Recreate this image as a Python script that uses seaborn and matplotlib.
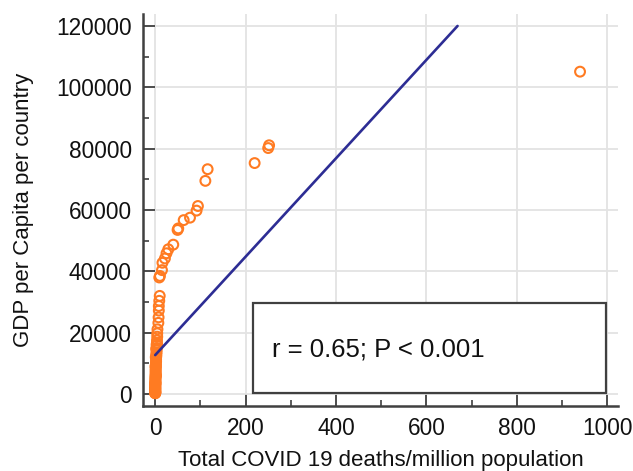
import matplotlib
matplotlib.use("Agg")
import matplotlib.pyplot as plt
import seaborn as sns
import pandas as pd
from matplotlib.patches import Rectangle
from matplotlib.ticker import MultipleLocator

# ---- data ----
deaths = [940, 252, 250, 220, 116, 111, 94.5, 91.5, 77, 63, 51, 49.5,
          40, 29, 25, 21.5, 16, 15, 10.5, 9,
          10, 9, 8, 8, 7.5, 7, 5, 4.5, 4.5, 4, 4, 3.5, 3.5, 3,
          3, 2.5, 2.5, 2, 2, 2, 1.5, 1.5, 1.5, 1, 1, 1, 1, 0.8, 0.8, 0.6,
          0.6, 0.5, 0.5, 0.4, 0.4, 0.3, 0.3, 0.3, 0.2, 0.2, 0.2, 0.1, 0.1,
          0.1, 0.1, 0.05, 0.05, 0.05, 0.02, 0.02, 0.02, 0.01, 0.01, 0.01,
          0.5, 1.2, 2.2, 3.2, 0.7, 1.8]
gdp = [105100, 81100, 80200, 75300, 73300, 69500, 61300, 59800, 57500, 56700, 54000, 53500,
       48700, 47200, 45900, 44200, 42800, 40400, 38500, 38000,
       32000, 30400, 28700, 27200, 25000, 23200, 21100, 19800, 18700, 17500, 16600, 15800, 15000, 14300,
       13600, 13000, 12400, 11800, 11200, 10600, 10000, 9400, 8800, 8200, 7700, 7200, 6700, 6200, 5800, 5400,
       5000, 4600, 4200, 3900, 3600, 3300, 3000, 2700, 2400, 2100, 1900, 1700, 1500,
       1300, 1100, 950, 800, 700, 600, 500, 420, 350, 300, 250,
       9000, 12000, 14800, 16200, 3500, 6000]

fit_x = [0, 669]
fit_y = [12700, 120000]

stat_text = "r = 0.65; P < 0.001"
x_label = "Total COVID 19 deaths/million population"
y_label = "GDP per Capita per country"
x_ticks = [0, 200, 400, 600, 800, 1000]
y_ticks = [0, 20000, 40000, 60000, 80000, 100000, 120000]

df = pd.DataFrame({"deaths": deaths, "gdp": gdp})
fit = pd.DataFrame({"x": fit_x, "y": fit_y})

sns.set_theme(style="white")
plt.rcParams["font.family"] = ["Liberation Sans", "DejaVu Sans"]

fig = plt.figure(figsize=(6.33, 4.71), dpi=100)
ax = fig.add_axes([143 / 633, 65 / 471, 475 / 633, 392 / 471])

ax.grid(True, color="#e3e3e3", linewidth=1.3, zorder=0)
ax.set_axisbelow(True)

sns.scatterplot(data=df, x="deaths", y="gdp", ax=ax, marker="o", s=50,
                facecolors="none", edgecolor="#ff7b22", linewidth=1.5, zorder=3)
sns.lineplot(data=fit, x="x", y="y", ax=ax, color="#2d2d94", linewidth=1.9, zorder=4)

ax.set_xlim(-27, 1024)
ax.set_ylim(-3900, 123900)
ax.set_xticks(x_ticks)
ax.set_yticks(y_ticks)
ax.xaxis.set_minor_locator(MultipleLocator(100))
ax.yaxis.set_minor_locator(MultipleLocator(10000))
ax.tick_params(which="major", direction="in", length=8.5, width=1.3, color="#404040",
               labelsize=16.3, labelcolor="#111111", pad=8)
ax.tick_params(which="minor", direction="in", length=4.5, width=1.2, color="#404040")
ax.tick_params(axis="x", which="both", bottom=True)
ax.tick_params(axis="y", which="both", left=True)

for s in ["top", "right"]:
    ax.spines[s].set_visible(False)
for s in ["left", "bottom"]:
    ax.spines[s].set_color("#404040")
    ax.spines[s].set_linewidth(1.8)

ax.set_xlabel(x_label, fontsize=16, color="#111111", labelpad=7)
ax.set_ylabel(y_label, fontsize=16, color="#111111", labelpad=16)

box = Rectangle((0.232, 0.032), 0.742, 0.2315, transform=ax.transAxes,
                facecolor="white", edgecolor="#404040", linewidth=1.6, zorder=5)
ax.add_patch(box)
ax.text(0.272, 0.145, stat_text, transform=ax.transAxes, ha="left", va="center",
        fontsize=18.5, color="#111111", zorder=6)

fig.savefig("out.png", dpi=100)
